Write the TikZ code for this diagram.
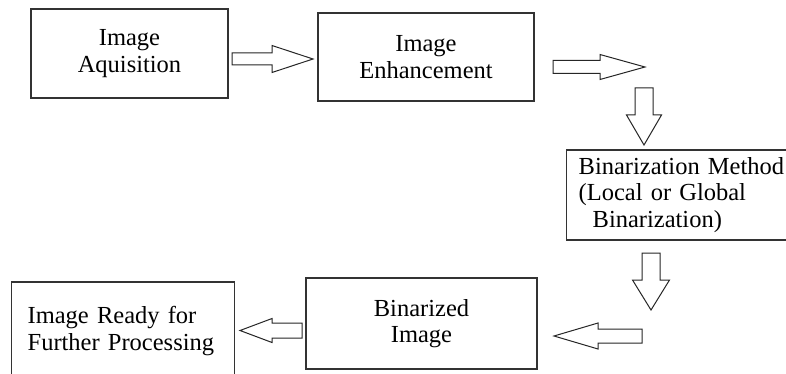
\documentclass[tikz,border=0pt]{standalone}
\usepackage{fontspec}
\setmainfont{Liberation Serif}
\usetikzlibrary{calc}

\tikzset{
  box/.style={draw=black!80, line width=1.3pt, inner sep=0pt, align=center,
    text=black, font=\fontsize{24.5}{26.5}\selectfont},
  leftbox/.style={box, align=left, anchor=west},
  hollow/.style={draw=black!85, line width=1pt, line join=miter},
}

% hollow block arrow: from, to, shaft half width, head half width, head length
\newcommand{\hollowarrow}[5]{%
  \coordinate (hb) at ($(#2)!#5!(#1)$);
  \draw[hollow] ($(#1)!#3!90:(#2)$) -- ($(hb)!#3!90:(#2)$) -- ($(hb)!#4!90:(#2)$)
    -- (#2) -- ($(hb)!#4!-90:(#2)$) -- ($(hb)!#3!-90:(#2)$) -- ($(#1)!#3!-90:(#2)$) -- cycle;
}

\begin{document}
\begin{tikzpicture}[x=1pt, y=-1pt]
    \useasboundingbox (0,0) rectangle (786,374);
    \clip (0,0) rectangle (786,374);
    \fill[white] (0,0) rectangle (786,374);

    % Boxes
    \node[box, minimum width=197pt, minimum height=89pt] (acq) at (129.5,53.5) {Image\\Aquisition};
    \node[box, minimum width=216pt, minimum height=88pt] (enh) at (426,57) {Image\\Enhancement};
    \node[leftbox, minimum height=90pt, inner xsep=12pt, text width=230pt] (bin) at (566,195)
      {Binarization Method\\(Local or Global\\\hspace*{14pt}Binarization)};
    \node[box, minimum width=231pt, minimum height=91pt] (bimg) at (421.5,323.5) {Binarized\\Image};
    \node[leftbox, minimum height=98pt, inner xsep=16pt, text width=191pt] (ready) at (11,331)
      {Image Ready for\\Further Processing};

    % Arrow ends
    \coordinate (a1s) at (232,59);
    \coordinate (a1e) at (313,59);
    \coordinate (a2s) at (553,67);
    \coordinate (a2e) at (645,67);
    \coordinate (d1s) at (644,88);
    \coordinate (d1e) at (644,145);
    \coordinate (d2s) at (651,253);
    \coordinate (d2e) at (651,310);
    \coordinate (l1s) at (642,336);
    \coordinate (l1e) at (554,336);
    \coordinate (l2s) at (302,330.5);
    \coordinate (l2e) at (240,330.5);

    % Block arrows
    \hollowarrow{a1s}{a1e}{6pt}{13.5pt}{41pt}
    \hollowarrow{a2s}{a2e}{6.5pt}{12.5pt}{45pt}
    \hollowarrow{d1s}{d1e}{9pt}{17.5pt}{30pt}
    \hollowarrow{d2s}{d2e}{9pt}{18.5pt}{30pt}
    \hollowarrow{l1s}{l1e}{7pt}{13pt}{44pt}
    \hollowarrow{l2s}{l2e}{7.5pt}{12pt}{32pt}
\end{tikzpicture}
\end{document}
